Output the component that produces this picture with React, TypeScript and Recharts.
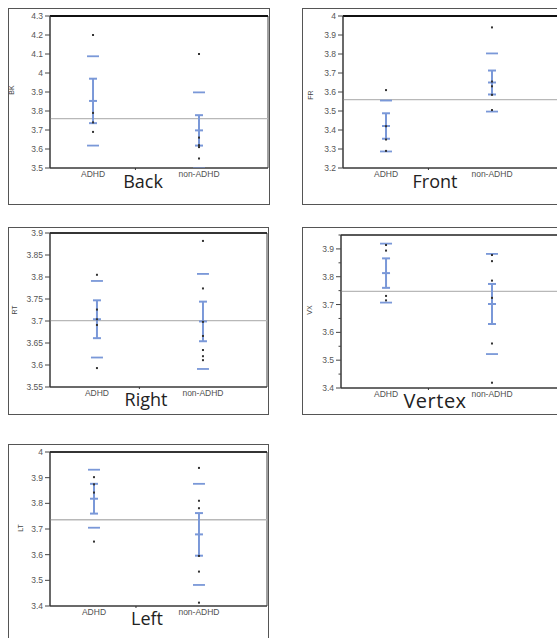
import React from 'react';
import {
  ComposedChart,
  Scatter,
  XAxis,
  YAxis,
  ReferenceLine,
  ReferenceArea,
  ErrorBar,
} from 'recharts';

const groups = ['ADHD', 'non-ADHD'];

// Back (BK)
const backAdhd = [4.2, 3.79, 3.74, 3.69];
const backNon = [4.1, 3.66, 3.62, 3.61, 3.55];
const backMean = [3.853, 3.698];
const backSE = [0.117, 0.08];
const backSD = [0.235, 0.2];
const backGrand = 3.76;
const backTicks = [3.5, 3.6, 3.7, 3.8, 3.9, 4, 4.1, 4.2, 4.3];

// Front (FR)
const frontAdhd = [3.61, 3.42, 3.35, 3.29];
const frontNon = [3.94, 3.655, 3.63, 3.585, 3.505];
const frontMean = [3.421, 3.65];
const frontSE = [0.067, 0.063];
const frontSD = [0.134, 0.153];
const frontGrand = 3.56;
const frontTicks = [3.2, 3.3, 3.4, 3.5, 3.6, 3.7, 3.8, 3.9, 4];

// Right (RT)
const rightAdhd = [3.805, 3.726, 3.704, 3.691, 3.593];
const rightNon = [3.882, 3.774, 3.698, 3.666, 3.634, 3.62, 3.611];
const rightMean = [3.704, 3.699];
const rightSE = [0.043, 0.045];
const rightSD = [0.087, 0.108];
const rightGrand = 3.701;
const rightTicks = [3.55, 3.6, 3.65, 3.7, 3.75, 3.8, 3.85, 3.9];

// Vertex (VX)
const vertexAdhd = [3.914, 3.894, 3.731, 3.715];
const vertexNon = [3.878, 3.856, 3.786, 3.724, 3.56, 3.419];
const vertexMean = [3.813, 3.702];
const vertexSE = [0.053, 0.072];
const vertexSD = [0.106, 0.18];
const vertexGrand = 3.747;
const vertexTicks = [3.4, 3.5, 3.6, 3.7, 3.8, 3.9];
const vertexMinor = [3.45, 3.55, 3.65, 3.75, 3.85, 3.95];

// Left (LT)
const leftAdhd = [3.902, 3.874, 3.842, 3.651];
const leftNon = [3.938, 3.81, 3.781, 3.595, 3.534, 3.413];
const leftMean = [3.818, 3.679];
const leftSE = [0.058, 0.083];
const leftSD = [0.113, 0.197];
const leftGrand = 3.736;
const leftTicks = [3.4, 3.5, 3.6, 3.7, 3.8, 3.9, 4];

const BLUE = '#7a98d8';
const YW = 34;
const XH = 20;

const toPoints = (adhd: number[], non: number[]) => [
  ...adhd.map((y) => ({ x: 1, y })),
  ...non.map((y) => ({ x: 2, y })),
];
const toMeans = (mean: number[], se: number[]) =>
  mean.map((m, i) => ({ x: i + 1, y: m, err: se[i] }));
const toSD = (mean: number[], sd: number[]) =>
  mean.flatMap((m, i) => [
    { x: i + 1, y: m + sd[i] },
    { x: i + 1, y: m - sd[i] },
  ]);

const fmt = (v: number) => String(Number(v.toFixed(2)));

const Dot = (p: any) => (
  <rect x={p.cx - 1} y={p.cy - 1} width={2} height={2} fill="#333" />
);
const MeanTick = (p: any) => (
  <line x1={p.cx - 4} x2={p.cx + 4} y1={p.cy} y2={p.cy} stroke={BLUE} strokeWidth={2} />
);
const SDTick = (p: any) => (
  <line x1={p.cx - 6} x2={p.cx + 6} y1={p.cy} y2={p.cy} stroke={BLUE} strokeWidth={1.8} />
);

const renderXTick = (props: any) => {
  const { x, y, payload } = props;
  const v = payload.value;
  if (v === 1 || v === 2) {
    return (
      <text x={x} y={y} dy="0.8em" textAnchor="middle" fontSize={8.5} fill="#505050"
        fontFamily="Liberation Sans, Arial, sans-serif">
        {groups[v - 1]}
      </text>
    );
  }
  return <line x1={x} x2={x} y1={y - 2} y2={y} stroke="#333" />;
};

const makeYTick = (majors: number[]) => (props: any) => {
  const { x, y, payload } = props;
  const v = payload.value;
  const axisX = x + 5 + 2;
  if (!majors.includes(v)) {
    return <line x1={axisX - 2.5} x2={axisX} y1={y} y2={y} stroke="#444" />;
  }
  return (
    <g>
      <line x1={axisX - 5} x2={axisX} y1={y} y2={y} stroke="#444" />
      <text x={x} y={y} dy={3} textAnchor="end" fontSize={8.5} fill="#555"
        fontFamily="Liberation Sans, Arial, sans-serif">
        {fmt(v)}
      </text>
    </g>
  );
};

type Rect = { x: number; y: number; w: number; h: number };
type PanelProps = {
  frame: Rect;
  plot: Rect;
  xDomain: [number, number];
  yDomain: [number, number];
  ticks: number[];
  minor?: number[];
  topWidth?: number;
  adhd: number[];
  non: number[];
  mean: number[];
  se: number[];
  sd: number[];
  grand: number;
};

const Panel = ({ frame, plot, xDomain, yDomain, ticks, minor = [], topWidth = 1, adhd, non, mean, se, sd, grand }: PanelProps) => {
  const margin = {
    top: plot.y - frame.y,
    left: plot.x - frame.x - YW,
    right: frame.x + frame.w - (plot.x + plot.w),
    bottom: frame.y + frame.h - (plot.y + plot.h) - XH,
  };
  return (
    <>
      <div style={{ position: 'absolute', left: frame.x, top: frame.y }}>
        <ComposedChart width={frame.w} height={frame.h} margin={margin}>
          <XAxis type="number" dataKey="x" domain={xDomain} allowDataOverflow ticks={[1, 1.4, 2]}
            interval={0} tick={renderXTick} tickLine={false} tickSize={0} tickMargin={2}
            height={XH} axisLine={{ stroke: '#333' }} />
          <YAxis type="number" dataKey="y" domain={yDomain} allowDataOverflow ticks={[...ticks, ...minor]}
            interval={0} tick={makeYTick(ticks)} tickLine={false} tickSize={5} tickMargin={2}
            width={YW} axisLine={{ stroke: '#333' }} />
          <ReferenceArea x1={xDomain[0]} x2={xDomain[1]} y1={yDomain[0]} y2={yDomain[1]}
            fill="none" stroke="#444" strokeOpacity={1} ifOverflow="visible" />
          <ReferenceLine y={yDomain[1]} stroke="#111" strokeWidth={topWidth} ifOverflow="visible" />
          <ReferenceLine y={grand} stroke="#b8b8b8" strokeWidth={1.3} />
          <Scatter data={toSD(mean, sd)} shape={SDTick} isAnimationActive={false} />
          <Scatter data={toMeans(mean, se)} shape={MeanTick} isAnimationActive={false}>
            <ErrorBar dataKey="err" direction="y" width={4} stroke={BLUE} strokeWidth={2}
              isAnimationActive={false} />
          </Scatter>
          <Scatter data={toPoints(adhd, non)} shape={Dot} isAnimationActive={false} />
        </ComposedChart>
      </div>
      <div style={{
        position: 'absolute', left: frame.x, top: frame.y, width: frame.w, height: frame.h,
        border: '1px solid #555', boxSizing: 'border-box', pointerEvents: 'none',
      }} />
    </>
  );
};

const titleStyle = { fontFamily: 'Open Sans, sans-serif', fill: '#222' };
const labelStyle = { fontFamily: 'Liberation Sans, Arial, sans-serif', fill: '#444', fontSize: 7 };

export default function App() {
  return (
    <div style={{ position: 'absolute', left: 0, top: 0, width: 557, height: 638, overflow: 'hidden', background: '#fff' }}>
      <Panel frame={{ x: 8, y: 8, w: 262, h: 197 }} plot={{ x: 50, y: 16, w: 218, h: 152 }}
        xDomain={[0.594, 2.651]} yDomain={[3.5, 4.3]} ticks={backTicks} topWidth={2}
        adhd={backAdhd} non={backNon} mean={backMean} se={backSE} sd={backSD} grand={backGrand} />
      <Panel frame={{ x: 302, y: 8, w: 260, h: 197 }} plot={{ x: 343, y: 16, w: 215, h: 152 }}
        xDomain={[0.594, 2.623]} yDomain={[3.2, 4]} ticks={frontTicks} topWidth={2}
        adhd={frontAdhd} non={frontNon} mean={frontMean} se={frontSE} sd={frontSD} grand={frontGrand} />
      <Panel frame={{ x: 8, y: 227, w: 261, h: 188 }} plot={{ x: 50, y: 233, w: 217, h: 154 }}
        xDomain={[0.557, 2.604]} yDomain={[3.55, 3.9]} ticks={rightTicks} topWidth={1.5}
        adhd={rightAdhd} non={rightNon} mean={rightMean} se={rightSE} sd={rightSD} grand={rightGrand} />
      <Panel frame={{ x: 302, y: 227, w: 260, h: 188 }} plot={{ x: 341, y: 235, w: 217, h: 153 }}
        xDomain={[0.575, 2.623]} yDomain={[3.4, 3.95]} ticks={vertexTicks} minor={vertexMinor}
        adhd={vertexAdhd} non={vertexNon} mean={vertexMean} se={vertexSE} sd={vertexSD} grand={vertexGrand} />
      <Panel frame={{ x: 8, y: 444, w: 261, h: 200 }} plot={{ x: 50, y: 452, w: 217, h: 154 }}
        xDomain={[0.581, 2.648]} yDomain={[3.4, 4]} ticks={leftTicks} topWidth={1.5}
        adhd={leftAdhd} non={leftNon} mean={leftMean} se={leftSE} sd={leftSD} grand={leftGrand} />

      <svg width={557} height={638} style={{ position: 'absolute', left: 0, top: 0, pointerEvents: 'none' }}>
        <text x={143} y={188} textAnchor="middle" fontSize={18} style={titleStyle}>Back</text>
        <text x={435} y={188} textAnchor="middle" fontSize={18} style={titleStyle}>Front</text>
        <text x={146} y={406} textAnchor="middle" fontSize={18} style={titleStyle}>Right</text>
        <text x={435} y={408} textAnchor="middle" fontSize={20} letterSpacing={0.5} style={titleStyle}>Vertex</text>
        <text x={147} y={625} textAnchor="middle" fontSize={18} style={titleStyle}>Left</text>

        <text x={14} y={90} textAnchor="middle" transform="rotate(-90 14 90)" style={labelStyle}>BK</text>
        <text x={313} y={95} textAnchor="middle" transform="rotate(-90 313 95)" style={labelStyle}>FR</text>
        <text x={17} y={310} textAnchor="middle" transform="rotate(-90 17 310)" style={labelStyle}>RT</text>
        <text x={312} y={310} textAnchor="middle" transform="rotate(-90 312 310)" style={labelStyle}>VX</text>
        <text x={23} y={528} textAnchor="middle" transform="rotate(-90 23 528)" style={labelStyle}>LT</text>
      </svg>
    </div>
  );
}
